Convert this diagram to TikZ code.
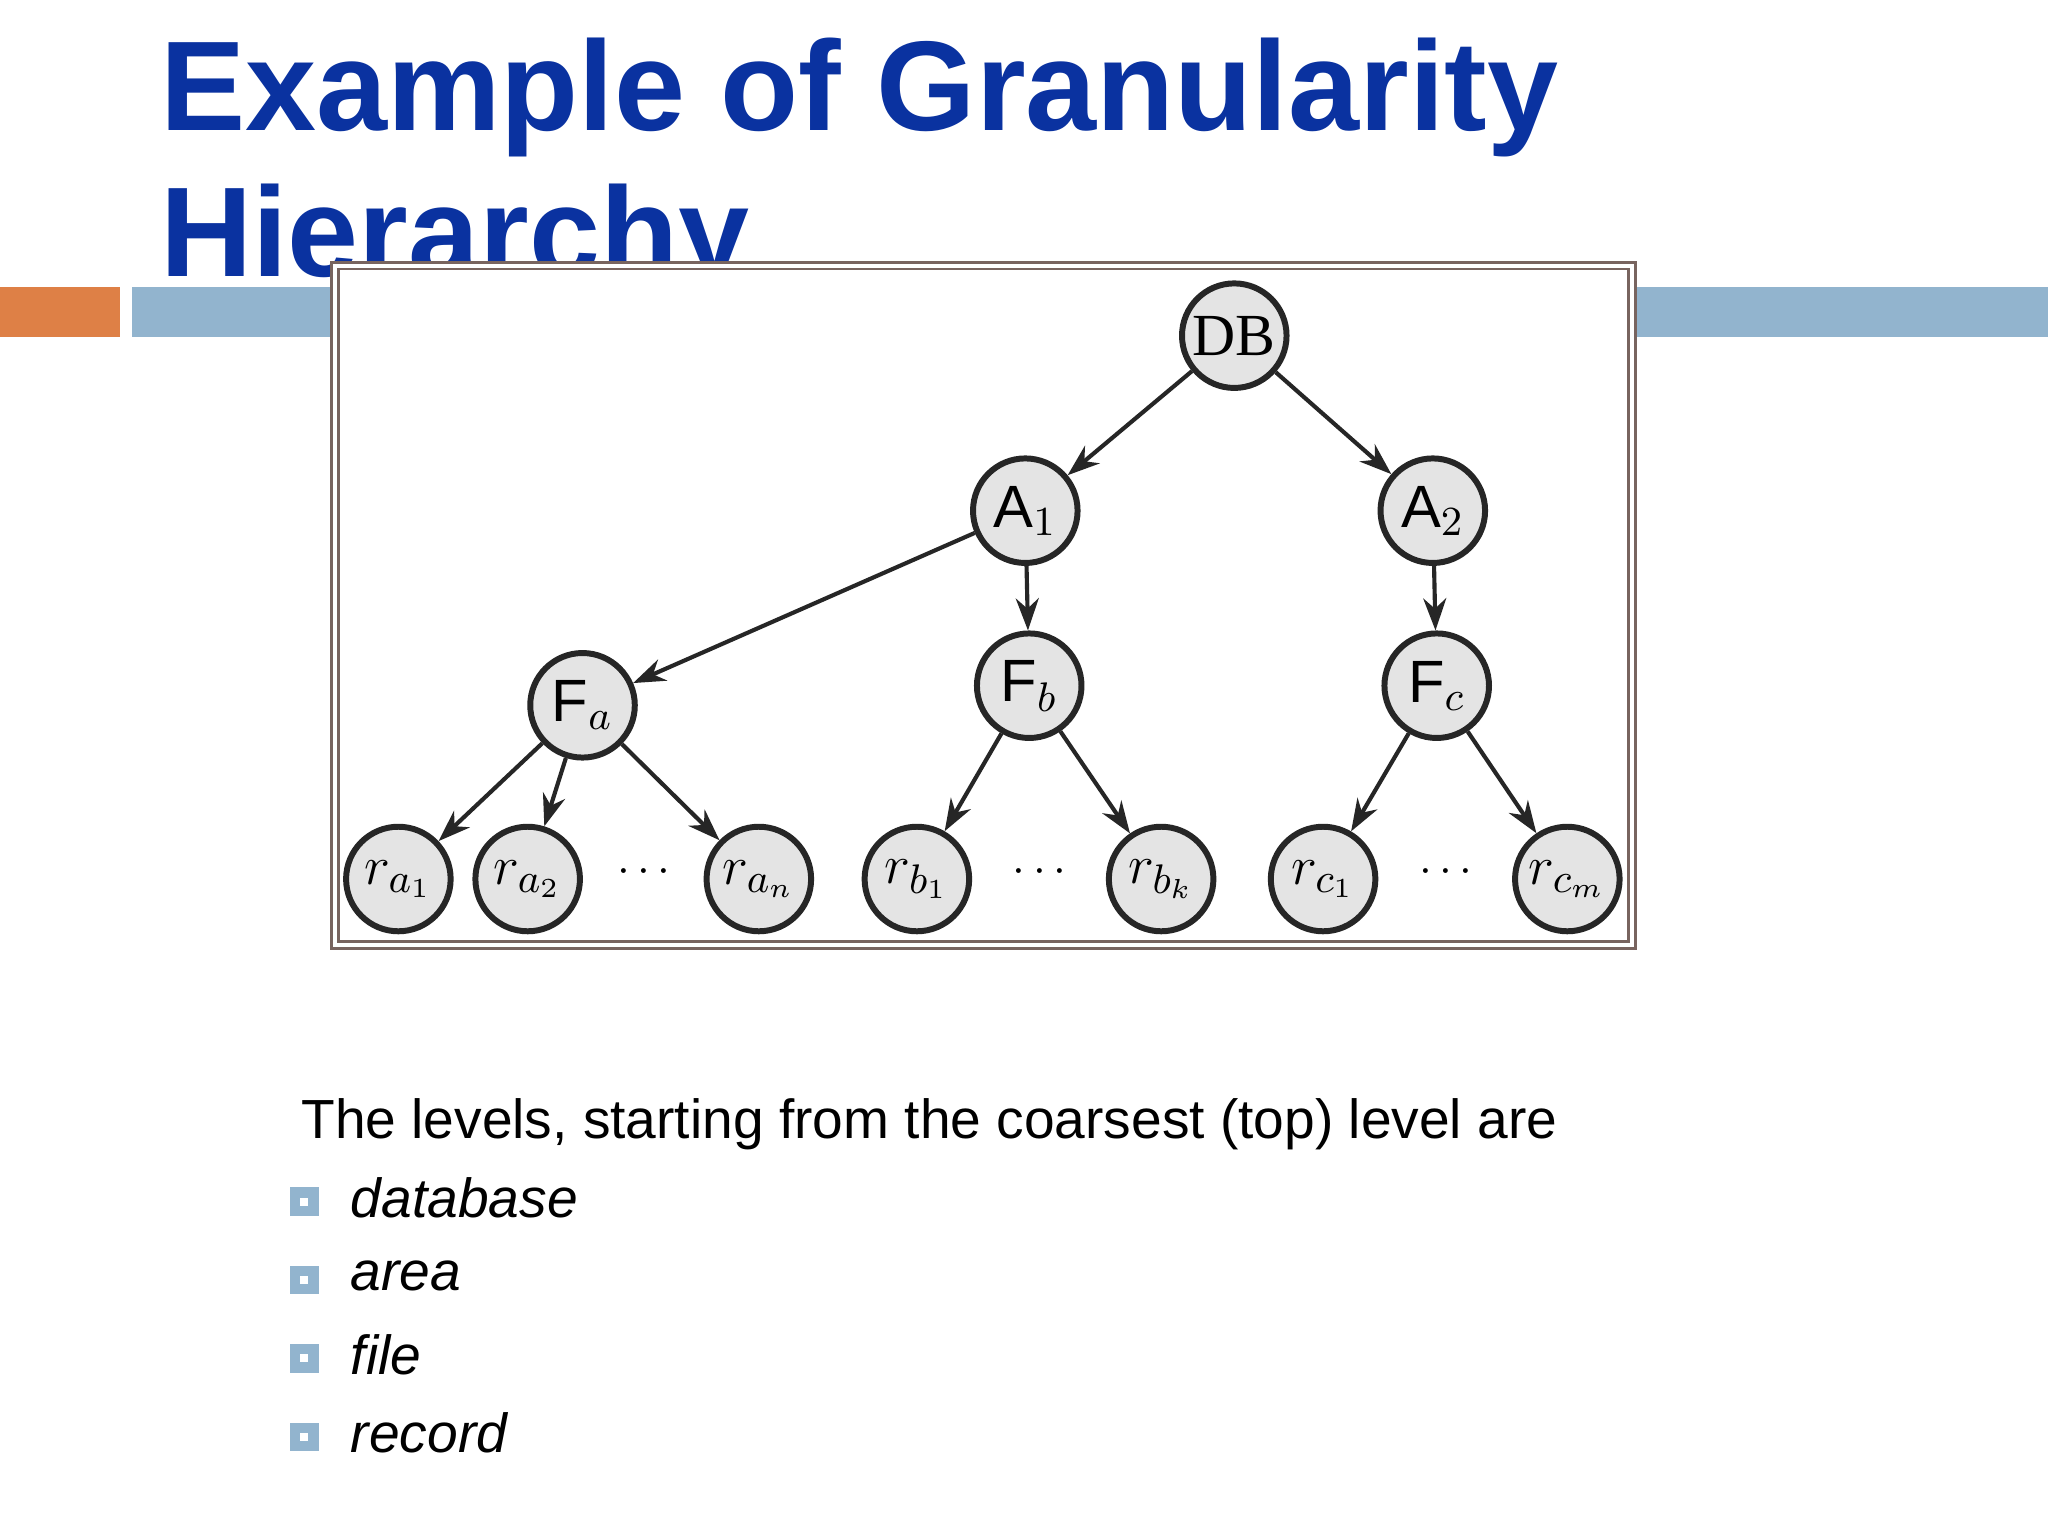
\documentclass[tikz,border=0pt]{standalone}
\usepackage{fontspec}
\setmainfont{Liberation Sans}
\newfontfamily\serifnode{Liberation Serif}
\usetikzlibrary{arrows.meta}
\definecolor{ttl}{RGB}{10,50,160}
\definecolor{barblue}{RGB}{146,180,206}
\definecolor{barorange}{RGB}{222,128,70}
\definecolor{nodefill}{RGB}{228,228,228}
\definecolor{boxline}{RGB}{120,100,95}
\begin{document}
\begin{tikzpicture}[x=0.01cm,y=-0.01cm,
  tn/.style={circle,draw=black!85,line width=1.3pt,fill=nodefill,minimum size=0.8cm,inner sep=0pt,font=\fontsize{13}{13}\selectfont},
  ed/.style={-{Stealth[length=7pt,width=5pt]},line width=0.9pt,black!85},
  bul/.style={draw=barblue,line width=2.2pt,minimum size=0.14cm,inner sep=0pt}]
\useasboundingbox (0,0) rectangle (1568,1176);
\fill[white] (0,0) rectangle (1568,1176);
\node[anchor=base west,inner sep=0,text=ttl,font=\fontsize{27.8}{30}\bfseries] (t1) at (122,100) {Example of Granularity};
\node[anchor=base west,inner sep=0,text=ttl,font=\fontsize{27.8}{30}\bfseries] (t2) at (122,212) {Hierarchy};
\fill[barorange] (0,220) rectangle (92,258);
\fill[barblue] (101,220) rectangle (1568,258);
\filldraw[fill=white,draw=boxline,line width=0.6pt] (254,201) rectangle (1252,726);
\draw[boxline,line width=0.6pt] (259,206) rectangle (1247,721);
\node[tn] (DB) at (945,257) {\serifnode DB};
\node[tn] (A1) at (785,391) {$\mathrm{A}_1$};
\node[tn] (A2) at (1097,391) {$\mathrm{A}_2$};
\node[tn] (Fa) at (446,540) {$\mathrm{F}_a$};
\node[tn] (Fb) at (788,525) {$\mathrm{F}_b$};
\node[tn] (Fc) at (1100,525) {$\mathrm{F}_c$};
\node[tn] (ra1) at (305,673) {$r_{a_1}$};
\node[tn] (ra2) at (404,673) {$r_{a_2}$};
\node[tn] (ran) at (581,673) {$r_{a_n}$};
\node[tn] (rb1) at (702,673) {$r_{b_1}$};
\node[tn] (rbk) at (889,673) {$r_{b_k}$};
\node[tn] (rc1) at (1013,673) {$r_{c_1}$};
\node[tn] (rcm) at (1200,673) {$r_{c_m}$};
\node (d1) at (493,668) {$\cdots$};
\node (d2) at (796,668) {$\cdots$};
\node (d3) at (1107,668) {$\cdots$};
\foreach \a/\b in {DB/A1,DB/A2,A1/Fa,A1/Fb,A2/Fc,Fa/ra1,Fa/ra2,Fa/ran,Fb/rb1,Fb/rbk,Fc/rc1,Fc/rcm}
  \draw[ed] (\a) -- (\b);
\node[anchor=base west,inner sep=0,font=\fontsize{12}{14}\selectfont] (lv) at (230,872) {The levels, starting from the coarsest (top) level are};
\foreach \y/\t [count=\i] in {917/database,977/area,1037/file,1097/record}{
  \node[bul] (b\i) at (233,\y+3) {};
  \node[anchor=west,inner sep=0,font=\fontsize{12}{14}\itshape] (it\i) at (268,\y) {\t};
}
\end{tikzpicture}
\end{document}
